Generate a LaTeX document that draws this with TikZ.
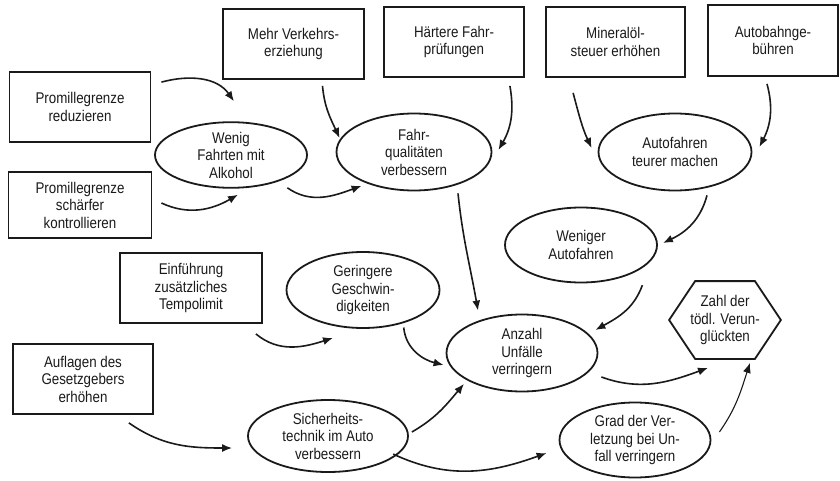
\documentclass[tikz,border=0pt]{standalone}
\usepackage{fontspec}
\setmainfont{Liberation Sans}[FakeStretch=0.86]
\usetikzlibrary{shapes.geometric,arrows.meta}
\definecolor{Ink}{HTML}{1A1A1A}
\tikzset{
  box/.style={draw=Ink,line width=1.8pt,inner sep=0pt,align=center,text=Ink,font=\fontsize{15.5}{17.5}\selectfont},
  oval/.style={ellipse,draw=Ink,line width=1.8pt,inner sep=0pt,align=center,text=Ink,font=\fontsize{15.5}{17.5}\selectfont},
  link/.style={draw=Ink,line width=1.6pt,-{Latex[length=10pt,width=8pt]}},
}
\begin{document}
\begin{tikzpicture}[x=1pt,y=1pt]
      \useasboundingbox (0,0) rectangle (840,480);
      \node[box,minimum width=141pt,minimum height=70pt] (prored) at (80,373) {Promillegrenze\\reduzieren};
      \node[box,minimum width=143pt,minimum height=66pt] (prosch) at (80,275) {Promillegrenze\\schärfer\\kontrollieren};
      \node[box,minimum width=141pt,minimum height=70pt] (verk) at (293.5,436) {Mehr Verkehrs-\\erziehung};
      \node[box,minimum width=140pt,minimum height=70pt] (haert) at (454,438) {Härtere Fahr-\\prüfungen};
      \node[box,minimum width=139pt,minimum height=70pt] (miner) at (615.5,438) {Mineralöl-\\steuer erhöhen};
      \node[box,minimum width=130pt,minimum height=71pt] (autob) at (773,439.5) {Autobahnge-\\bühren};
      \node[box,minimum width=142pt,minimum height=70pt] (tempo) at (191,192) {Einführung\\zusätzliches\\Tempolimit};
      \node[box,minimum width=140pt,minimum height=70pt] (aufl) at (83,101) {Auflagen des\\Gesetzgebers\\erhöhen};
      \node[oval,minimum width=152pt,minimum height=65pt] (wenig) at (231,325) {Wenig\\Fahrten mit\\Alkohol};
      \node[oval,minimum width=155pt,minimum height=77pt] (fahrq) at (414,328) {Fahr-\\qualitäten\\verbessern};
      \node[oval,minimum width=153pt,minimum height=77pt] (teurer) at (675,328) {Autofahren\\teurer machen};
      \node[oval,minimum width=152pt,minimum height=75pt] (weniger) at (581,235) {Weniger\\Autofahren};
      \node[oval,minimum width=153pt,minimum height=76pt] (geschw) at (363,190) {Geringere\\Geschwin-\\digkeiten};
      \node[oval,minimum width=160pt,minimum height=72pt] (sicher) at (328,44) {Sicherheits-\\technik im Auto\\verbessern};
      \node[oval,minimum width=151pt,minimum height=77pt] (anzahl) at (522,127) {Anzahl\\Unfälle\\verringern};
      \node[oval,minimum width=151pt,minimum height=75pt] (grad) at (635,40) {Grad der Ver-\\letzung bei Un-\\fall verringern};
      \node[box,draw=none,minimum width=110pt,minimum height=76pt] (zahl) at (725,160) {Zahl der\\tödl. Verun-\\glückten};
      \draw[Ink,line width=1.8pt,line join=miter] (zahl.west) -- ([xshift=26pt]zahl.north west) -- ([xshift=-26pt]zahl.north east) -- (zahl.east) -- ([xshift=-26pt]zahl.south east) -- ([xshift=26pt]zahl.south west) -- cycle;
      \draw[link] ([shift={(10,-11)}]prored.north east) to[out=15,in=125] ([shift={(3,20)}]wenig.north);
      \draw[link] ([shift={(9,2)}]prosch.east) to[out=-25,in=210] ([shift={(7,-6)}]wenig.south);
      \draw[link] ([shift={(2,-9)}]wenig.south east) to[out=-35,in=200] ([shift={(3,-6)}]fahrq.south west);
      \draw[link] ([shift={(29,-6)}]verk.south) to[out=-85,in=115] ([shift={(4,14)}]fahrq.west);
      \draw[link] ([shift={(-15,-8)}]haert.south east) to[out=-80,in=60] ([shift={(6,2)}]fahrq.east);
      \draw[link] ([shift={(28,-15)}]miner.south west) to[out=-75,in=115] ([shift={(-6,4)}]teurer.west);
      \draw[link] ([shift={(-6,-7)}]autob.south) to[out=-75,in=63] ([shift={(7,5)}]teurer.east);
      \draw[link] ([shift={(44,-2)}]fahrq.south) to[out=-84,in=100] ([shift={(-44,3)}]anzahl.north);
      \draw[link] ([shift={(32,-4)}]teurer.south) to[out=-105,in=25] ([shift={(5,2)}]weniger.east);
      \draw[link] ([shift={(7,-13)}]weniger.south east) to[out=-110,in=29] ([shift={(-3,23)}]anzahl.east);
      \draw[link] ([shift={(-7,-10)}]tempo.south east) to[out=-40,in=198] ([shift={(-30,-9)}]geschw.south);
      \draw[link] ([shift={(-14,-10)}]geschw.south east) to[out=-85,in=166] ([shift={(-2,-12)}]anzahl.west);
      \draw[link] ([shift={(-25,-8)}]aufl.south east) to[out=-35,in=180] ([shift={(-15,-12)}]sicher.west);
      \draw[link] ([shift={(3,4)}]sicher.east) to[out=30,in=230] ([shift={(-4,-3)}]anzahl.south west);
      \draw[link] ([shift={(8,8)}]sicher.south east) to[out=-25,in=200] ([shift={(-12,-13)}]grad.west);
      \draw[link] ([shift={(3,-24)}]anzahl.east) to[out=-20,in=200] ([shift={(-17,-9)}]zahl.south);
      \draw[link,line width=1.1pt] ([shift={(8,8)}]grad.east) to[out=55,in=252] ([shift={(25,-4)}]zahl.south);
    \end{tikzpicture}
\end{document}
